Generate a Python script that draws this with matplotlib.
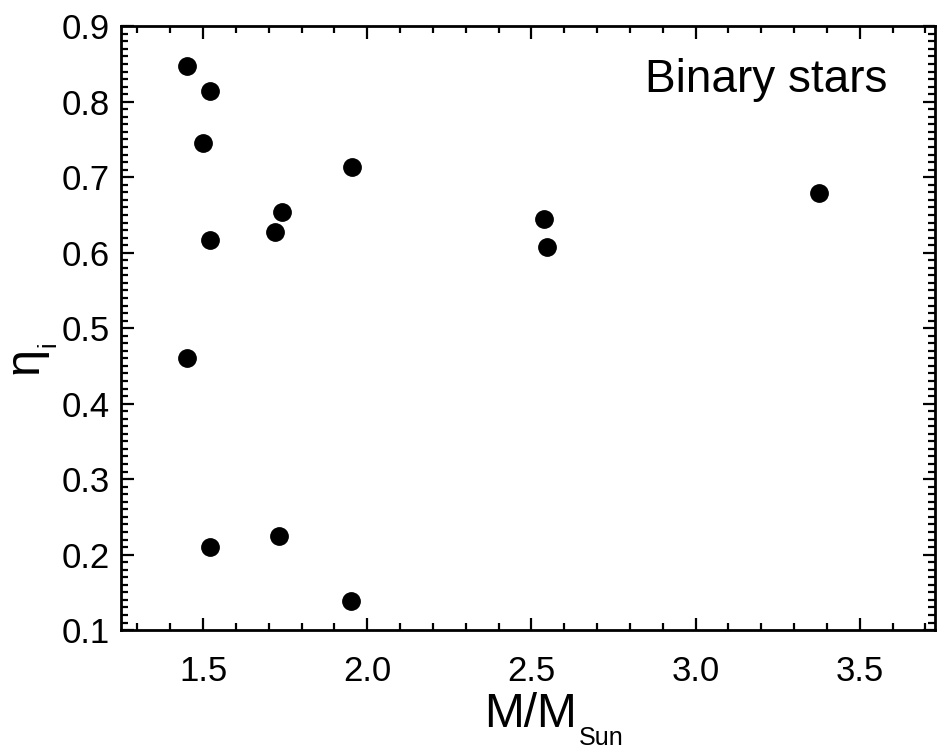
import matplotlib
matplotlib.use("Agg")
import matplotlib.pyplot as plt
from matplotlib.ticker import MultipleLocator, FormatStrFormatter

plt.rcParams["font.family"] = ["Liberation Sans", "DejaVu Sans"]

# binary stars: mass (M/M_Sun) and eta_i
mass = [1.450, 1.521, 1.501, 1.521, 1.450, 1.521, 1.720, 1.741, 1.732,
        1.954, 1.950, 2.538, 2.548, 3.376]
eta = [0.847, 0.814, 0.746, 0.617, 0.461, 0.210, 0.627, 0.654, 0.224,
       0.713, 0.138, 0.645, 0.608, 0.679]

fig = plt.figure(figsize=(9.38, 7.51), dpi=100)
ax = fig.add_axes([0.129, 0.161, 0.868, 0.804])

ax.plot(mass, eta, "o", color="black", markersize=12.5, linestyle="none")

ax.set_xlim(1.25, 3.73)
ax.set_ylim(0.1, 0.9)
ax.xaxis.set_major_locator(MultipleLocator(0.5))
ax.xaxis.set_minor_locator(MultipleLocator(0.1))
ax.yaxis.set_major_locator(MultipleLocator(0.1))
ax.yaxis.set_minor_locator(MultipleLocator(0.01))
ax.xaxis.set_major_formatter(FormatStrFormatter("%.1f"))
ax.yaxis.set_major_formatter(FormatStrFormatter("%.1f"))

for s in ax.spines.values():
    s.set_linewidth(2)
ax.tick_params(which="both", direction="in", top=True, right=True, width=1.6)
ax.tick_params(which="major", length=9, labelsize=25)
ax.tick_params(which="minor", length=5)
ax.tick_params(axis="x", which="major", pad=18)
ax.tick_params(axis="y", which="major", pad=8)

# x label with smaller subscript
xl = ax.text(0.4466, -0.1606, "M/M", transform=ax.transAxes, fontsize=34.5,
             ha="left", va="baseline")
ax.annotate("Sun", xy=(1, 0), xycoords=xl, xytext=(1, -6),
            textcoords="offset points", fontsize=18, ha="left", va="baseline")

# y label, rotated
yl = ax.text(-0.1175, 0.446, "η", transform=ax.transAxes, fontsize=35,
             rotation=90, ha="center", va="center")
ax.annotate("i", xy=(1, 1), xycoords=yl, xytext=(9, 0),
            textcoords="offset points", fontsize=18, rotation=90,
            ha="right", va="bottom")

ax.text(0.941, 0.891, "Binary stars", transform=ax.transAxes, fontsize=33,
        ha="right", va="baseline")

fig.savefig("out.png", dpi=100)
